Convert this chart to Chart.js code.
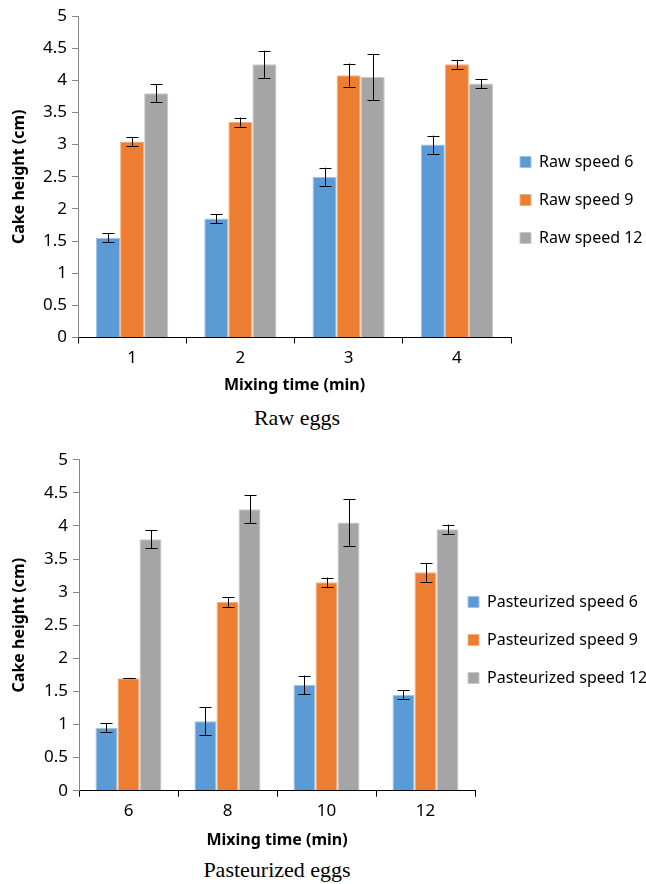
<!DOCTYPE html>
<html>
<head>
<meta charset="utf-8">
<script src="https://cdn.jsdelivr.net/npm/chart.js@4/dist/chart.umd.min.js"></script>
<style>
  body { margin: 0; background: #fff; width: 646px; height: 884px; position: relative; overflow: hidden; }
  .box { position: absolute; left: 0; width: 646px; }
  .caption { position: absolute; font-family: "Liberation Serif", serif; font-size: 22px; color: #000; white-space: nowrap; transform: translateX(-50%); }
</style>
</head>
<body>
<div class="box" style="top:0;height:400px"><canvas id="rawChart"></canvas></div>
<div class="caption" style="left:297px;top:405px">Raw eggs</div>
<div class="box" style="top:440px;height:415px"><canvas id="pastChart"></canvas></div>
<div class="caption" style="left:277px;top:857px">Pasteurized eggs</div>
<script>
// Raw eggs: mixing time 1-4 min
const rawLabels = ['1', '2', '3', '4'];
const rawSpeed6 = [1.55, 1.85, 2.5, 3.0];
const rawSpeed9 = [3.05, 3.35, 4.08, 4.25];
const rawSpeed12 = [3.8, 4.25, 4.05, 3.95];
const rawErr6 = [0.07, 0.07, 0.14, 0.14];
const rawErr9 = [0.07, 0.07, 0.18, 0.07];
const rawErr12 = [0.14, 0.21, 0.36, 0.07];

// Pasteurized eggs: mixing time 6-12 min
const pastLabels = ['6', '8', '10', '12'];
const pastSpeed6 = [0.95, 1.05, 1.6, 1.45];
const pastSpeed9 = [1.7, 2.85, 3.15, 3.3];
const pastSpeed12 = [3.8, 4.25, 4.05, 3.95];
const pastErr6 = [0.07, 0.21, 0.14, 0.07];
const pastErr9 = [0.005, 0.07, 0.07, 0.14];
const pastErr12 = [0.14, 0.21, 0.35, 0.07];

const yTicks = [0, 0.5, 1, 1.5, 2, 2.5, 3, 3.5, 4, 4.5, 5];

const colors = ['#5B9BD5', '#ED7D31', '#A5A5A5'];
const edges = ['#9DC3E6', '#F4B183', '#C9C9C9'];

// draws the +/- error bars on top of each bar
const errorBars = {
    id: 'errorBars',
    afterDatasetsDraw(chart) {
        const ctx = chart.ctx;
        const y = chart.scales.y;
        ctx.save();
        ctx.strokeStyle = '#000';
        ctx.lineWidth = 1;
        chart.data.datasets.forEach((ds, i) => {
            const meta = chart.getDatasetMeta(i);
            meta.data.forEach((bar, j) => {
                const v = ds.data[j], e = ds.errors[j];
                const top = y.getPixelForValue(v + e);
                const bot = y.getPixelForValue(v - e);
                const x = Math.round(bar.x) + 0.5;
                ctx.beginPath();
                ctx.moveTo(x, top); ctx.lineTo(x, bot);
                ctx.moveTo(x - 6, Math.round(top) + 0.5); ctx.lineTo(x + 6, Math.round(top) + 0.5);
                ctx.moveTo(x - 6, Math.round(bot) + 0.5); ctx.lineTo(x + 6, Math.round(bot) + 0.5);
                ctx.stroke();
            });
        });
        ctx.restore();
    }
};

// moves the legend to where Excel put it
const legendPlace = {
    id: 'legendPlace',
    afterLayout(chart, args, opts) {
        const lg = chart.legend;
        lg.left = opts.x - lg.options.labels.padding;
        lg.right = chart.width + 40;
        lg.width = lg.right - lg.left;
        const dy = opts.cy - (lg.top + lg.bottom) / 2;
        lg.top += dy;
        lg.bottom += dy;
    }
};

function makeChart(id, labels, names, series, errors, geo) {
    return new Chart(document.getElementById(id), {
        type: 'bar',
        data: {
            labels: labels,
            datasets: series.map((s, i) => ({
                label: names[i],
                data: s,
                errors: errors[i],
                backgroundColor: colors[i],
                borderColor: edges[i],
                borderWidth: 1,
                categoryPercentage: 0.667,
                barPercentage: 1.0
            }))
        },
        options: {
            responsive: true,
            maintainAspectRatio: false,
            animation: false,
            layout: { padding: { top: geo.top, left: 0, right: 0, bottom: 0 } },
            plugins: {
                legend: {
                    position: 'right',
                    maxWidth: geo.legendWidth,
                    labels: {
                        boxWidth: 11,
                        boxHeight: 11,
                        padding: 22,
                        color: '#000',
                        font: { family: 'Noto Sans', size: 16 }
                    }
                },
                legendPlace: { x: geo.legendX, cy: 200 },
                tooltip: { enabled: false }
            },
            scales: {
                x: {
                    afterFit: s => { s.height = geo.xHeight; },
                    grid: { display: true, drawOnChartArea: false, offset: true, tickLength: 6, color: '#000' },
                    border: { display: true, color: '#000', width: 1 },
                    ticks: { padding: 4, color: '#000', font: { family: 'Noto Sans', size: 17 } },
                    title: {
                        display: true,
                        text: 'Mixing time (min)',
                        color: '#000',
                        padding: { top: 0, bottom: 5 },
                        font: { family: 'Noto Sans', size: 16, weight: 'bold' }
                    }
                },
                y: {
                    min: 0,
                    max: 5,
                    afterFit: s => { s.width = geo.yWidth; },
                    afterBuildTicks: s => { s.ticks = yTicks.map(v => ({ value: v })); },
                    grid: { display: true, drawOnChartArea: false, tickLength: 6, color: '#868686' },
                    border: { display: true, color: '#868686', width: 1 },
                    ticks: {
                        padding: 5,
                        color: '#000',
                        font: { family: 'Noto Sans', size: 17 },
                        callback: v => String(v)
                    },
                    title: {
                        display: true,
                        text: 'Cake height (cm)',
                        color: '#000',
                        padding: { top: 10, bottom: 0 },
                        font: { family: 'Noto Sans', size: 16, weight: 'bold' }
                    }
                }
            }
        },
        plugins: [errorBars, legendPlace]
    });
}

makeChart('rawChart', rawLabels,
    ['Raw speed 6', 'Raw speed 9', 'Raw speed 12'],
    [rawSpeed6, rawSpeed9, rawSpeed12],
    [rawErr6, rawErr9, rawErr12],
    { top: 16, xHeight: 62.5, yWidth: 78, legendWidth: 135, legendX: 520 });

makeChart('pastChart', pastLabels,
    ['Pasteurized speed 6', 'Pasteurized speed 9', 'Pasteurized speed 12'],
    [pastSpeed6, pastSpeed9, pastSpeed12],
    [pastErr6, pastErr9, pastErr12],
    { top: 19.7, xHeight: 64.3, yWidth: 79, legendWidth: 171, legendX: 468 });
</script>
</body>
</html>
